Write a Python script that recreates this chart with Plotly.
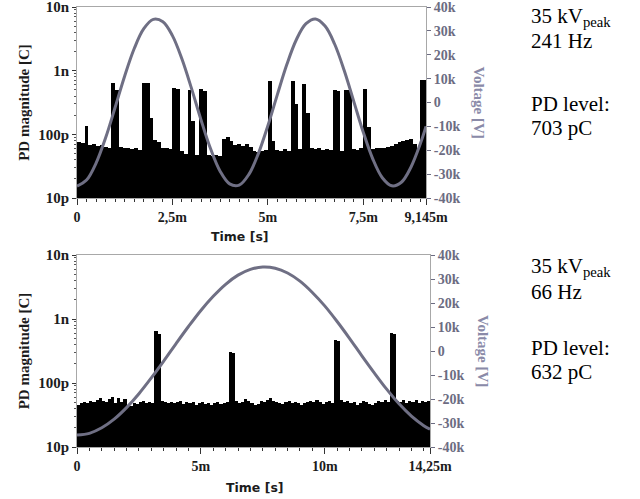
import plotly.graph_objects as go

W, H = 640, 499

# ---------------- data ----------------
# top panel: 241 Hz, PD magnitude in pC per 0.1 ms bin
top_bin_ms = 0.1
top_pd_pC = [75, 72, 134, 68, 70, 66, 68, 64, 62, 640,
             490, 63, 60, 62, 58, 60, 57, 650, 640, 180,
             82, 75, 62, 60, 58, 540, 520, 55, 50, 500,
             160, 48, 520, 480, 47, 46, 48, 45, 85, 90,
             80, 68, 70, 66, 70, 64, 55, 52, 54, 56,
             680, 79, 56, 54, 58, 55, 680, 300, 58, 610,
             220, 62, 58, 60, 56, 58, 57, 500, 480, 55,
             500, 490, 58, 56, 60, 520, 130, 58, 60, 62,
             60, 64, 66, 70, 75, 80, 82, 85, 70, 62,
             720, 720]
top_v_t_ms = [0, 0.25, 0.5, 0.75, 1.0, 1.25, 1.5, 1.75, 2.0, 2.25, 2.5, 2.75,
              3.0, 3.25, 3.5, 3.75, 4.0, 4.25, 4.5, 4.75, 5.0, 5.25, 5.5, 5.75,
              6.0, 6.25, 6.5, 6.75, 7.0, 7.25, 7.5, 7.75, 8.0, 8.25, 8.5, 8.75,
              9.0, 9.145]
top_v_kV = [-35.0, -32.5, -25.4, -14.8, -2.0, 11.1, 22.6, 30.9, 34.8, 33.8, 28.0, 18.2,
            5.9, -7.3, -19.4, -28.8, -34.1, -34.6, -30.2, -21.5, -9.8, 3.3, 16.0, 26.4,
            33.0, 35.0, 32.0, 24.5, 13.5, 0.6, -12.4, -23.6, -31.5, -34.9, -33.4, -27.1,
            -17.1, -10.0]
top_x_ticks = [0, 2.5, 5, 7.5, 9.145]
top_x_labels = ["0", "2,5m", "5m", "7,5m", "9,145m"]
top_text = ["35 kV<sub>peak</sub>", "241 Hz", "PD level:", "703 pC"]

# bottom panel: 66 Hz, PD magnitude in pC per 0.125 ms bin
bot_bin_ms = 0.125
bot_pd_pC = [45, 48, 50, 49, 52, 50, 55, 58, 52, 50, 56, 60, 48, 58, 50, 57,
             46, 44, 48, 47, 50, 52, 48, 50, 48, 640, 590, 52, 50, 49, 51, 48,
             50, 52, 47, 50, 49, 51, 46, 48, 50, 47, 49, 46, 48, 50, 47, 48,
             50, 310, 290, 52, 48, 50, 56, 52, 48, 45, 47, 52, 50, 55, 58, 52,
             50, 48, 47, 50, 52, 48, 50, 49, 46, 48, 50, 52, 51, 54, 50, 47,
             50, 52, 48, 470, 450, 55, 50, 52, 48, 50, 46, 48, 52, 50, 47, 45,
             48, 52, 50, 54, 50, 615, 590, 52, 50, 55, 48, 52, 50, 54, 48, 52,
             50, 53]
bot_v_t_ms = [0, 0.5, 1.0, 1.5, 2.0, 2.5, 3.0, 3.5, 4.0, 4.5, 5.0, 5.5, 6.0, 6.5,
              7.0, 7.5, 8.0, 8.5, 9.0, 9.5, 10.0, 10.5, 11.0, 11.5, 12.0, 12.5,
              13.0, 13.5, 14.0, 14.25]
bot_v_kV = [-35.0, -34.3, -32.0, -28.4, -23.6, -17.8, -11.2, -4.2, 3.1, 10.2, 16.9,
            22.8, 27.8, 31.6, 34.0, 35.0, 34.5, 32.5, 29.1, 24.4, 18.8, 12.3, 5.3,
            -2.0, -9.1, -15.9, -22.0, -27.1, -31.1, -32.6]
bot_x_ticks = [0, 5, 10, 14.25]
bot_x_labels = ["0", "5m", "10m", "14,25m"]
bot_text = ["35 kV<sub>peak</sub>", "66 Hz", "PD level:", "632 pC"]

pd_tickvals = [1e-11, 1e-10, 1e-9, 1e-8]
pd_ticktext = ["10p", "100p", "1n", "10n"]
v_tickvals = [40000, 30000, 20000, 10000, 0, -10000, -20000, -30000, -40000]
v_ticktext = ["40k", "30k", "20k", "10k", "0", "-10k", "-20k", "-30k", "-40k"]

# ---------------- styles ----------------
SERIF = "Liberation Serif"
SANS = "DejaVu Sans"
AX_GRAY = "#a8a8a8"
WAVE = "#6f6f84"
VCOL = "#6c6c82"
VTITLE = "#8a8aa8"
TXT = "#1c1c1c"

def px_x(p):
    return p / W

def px_y(p):
    return 1 - p / H

fig = go.Figure()

panels = [
    dict(bin=top_bin_ms, pd=top_pd_pC, vt=top_v_t_ms, vv=top_v_kV, xt=top_x_ticks,
         xl=top_x_labels, xmax=9.145, minor=0.25, x0=77, x1=426, y0=7, y1=198,
         xa="x", ya="y", ya2="y2", text=top_text, ty=[17, 41, 104, 128],
         tx=240, tty=237),
    dict(bin=bot_bin_ms, pd=bot_pd_pC, vt=bot_v_t_ms, vv=bot_v_kV, xt=bot_x_ticks,
         xl=bot_x_labels, xmax=14.25, minor=0.5, x0=77, x1=430, y0=255, y1=447,
         xa="x2", ya="y3", ya2="y4", text=bot_text, ty=[267, 292, 348, 372],
         tx=255, tty=487),
]

layout = dict(
    width=W, height=H,
    margin=dict(l=0, r=0, t=0, b=0),
    paper_bgcolor="white", plot_bgcolor="white",
    showlegend=False, bargap=0,
    annotations=[],
)

minor_log = [m * 10 ** e for e in (-11, -10, -9) for m in range(2, 10)]

for i, p in enumerate(panels):
    n = len(p["pd"])
    xs = [(k + 0.5) * p["bin"] for k in range(n)]
    ys = [v * 1e-12 for v in p["pd"]]
    fig.add_trace(go.Bar(x=xs, y=ys, width=p["bin"], marker=dict(color="black", line=dict(width=0)),
                         xaxis=p["xa"], yaxis=p["ya"], hoverinfo="skip"))
    fig.add_trace(go.Scatter(x=p["vt"], y=[v * 1000 for v in p["vv"]], mode="lines",
                             line=dict(color=WAVE, width=3, shape="spline", smoothing=1.0),
                             xaxis=p["xa"], yaxis=p["ya2"], hoverinfo="skip"))

    xkey = "xaxis" if i == 0 else "xaxis2"
    ykey = "yaxis" if i == 0 else "yaxis3"
    y2key = "yaxis2" if i == 0 else "yaxis4"
    xdom = [px_x(p["x0"]), px_x(p["x1"])]
    ydom = [px_y(p["y1"]), px_y(p["y0"])]
    minor_x = []
    k = 0
    while k * p["minor"] <= p["xmax"] + 1e-9:
        minor_x.append(k * p["minor"])
        k += 1
    layout[xkey] = dict(
        domain=xdom, range=[0, p["xmax"]], anchor=p["ya"],
        tickmode="array", tickvals=p["xt"], ticktext=p["xl"],
        ticks="outside", ticklen=6, tickcolor="#333", tickwidth=1,
        minor=dict(tickmode="array", tickvals=minor_x, ticks="outside", ticklen=3, tickcolor="#333"),
        showline=True, linecolor=AX_GRAY, linewidth=1, mirror=True,
        showgrid=False, zeroline=False, automargin=False, ticklabeloverflow="allow",
        tickfont=dict(family=SERIF, size=14, color=TXT, weight="bold"),
    )
    layout[ykey] = dict(
        domain=ydom, type="log", range=[-11, -8], anchor=p["xa"],
        tickmode="array", tickvals=pd_tickvals, ticktext=pd_ticktext,
        ticks="outside", ticklen=4, tickcolor="#333",
        minor=dict(tickmode="array", tickvals=minor_log, ticks="outside", ticklen=2, tickcolor="#555"),
        showline=True, linecolor=AX_GRAY, linewidth=1,
        showgrid=False, zeroline=False, automargin=False, ticklabeloverflow="allow",
        tickfont=dict(family=SERIF, size=15, color=TXT, weight="bold"),
        title=dict(text="<b>PD magnitude [C]</b>", font=dict(family=SERIF, size=15, color=TXT), standoff=4),
    )
    layout[y2key] = dict(
        overlaying=p["ya"], side="right", anchor=p["xa"], range=[-40000, 40000],
        tickmode="array", tickvals=v_tickvals, ticktext=v_ticktext,
        ticks="outside", ticklen=4, tickcolor=VCOL,
        showline=True, linecolor=AX_GRAY, linewidth=1,
        showgrid=False, zeroline=False, automargin=False, ticklabeloverflow="allow",
        tickfont=dict(family=SERIF, size=14, color=VCOL, weight="bold"),
    )
    layout["annotations"].append(dict(
        text="<b>Time [s]</b>", xref="paper", yref="paper",
        x=px_x(p["tx"]), y=px_y(p["tty"]), showarrow=False,
        xanchor="center", yanchor="middle", font=dict(family=SANS, size=12.5, color=TXT)))
    layout["annotations"].append(dict(
        text="<b>Voltage [V]</b>", textangle=90, xref="paper", yref="paper",
        x=px_x(p["x1"] + 53), y=px_y((p["y0"] + p["y1"]) / 2), showarrow=False,
        xanchor="center", yanchor="middle", font=dict(family=SERIF, size=15, color=VTITLE)))
    for t, yy in zip(p["text"], p["ty"]):
        layout["annotations"].append(dict(
            text=t, xref="paper", yref="paper", x=px_x(529), y=px_y(yy), showarrow=False,
            xanchor="left", yanchor="middle", font=dict(family=SERIF, size=21, color="black")))

fig.update_layout(**layout)
fig.write_html("out.html", config={"displayModeBar": False},
               post_script="document.body.style.margin='0px';")
